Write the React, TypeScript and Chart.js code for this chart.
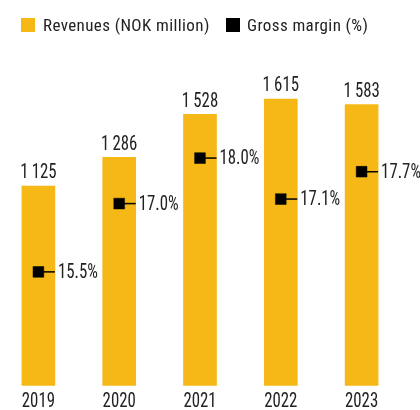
import React, { useEffect, useRef } from "react";
import { Chart, registerables } from "chart.js";

Chart.register(...registerables);

const years = ["2019", "2020", "2021", "2022", "2023"];
const revenues = [1125, 1286, 1528, 1615, 1583];
const revenueLabels = ["1\u2009125", "1\u2009286", "1\u2009528", "1\u2009615", "1\u2009583"];
const grossMargin = [15.5, 17.0, 18.0, 17.1, 17.7];
const marginLabels = ["15.5%", "17.0%", "18.0%", "17.1%", "17.7%"];

const ORANGE = "#F6B817";
const TEXT = "#222222";
const FONT = "'Roboto Condensed', Roboto, sans-serif";
const NUM_SX = 0.8;

function scaledText(ctx: any, text: string, x: number, y: number, align: string, baseline: string) {
  ctx.save();
  ctx.translate(x, y);
  ctx.scale(NUM_SX, 1);
  ctx.textAlign = align;
  ctx.textBaseline = baseline;
  ctx.fillText(text, 0, 0);
  ctx.restore();
}

const labelPlugin = {
  id: "labels",
  afterDatasetsDraw(chart: any) {
    const ctx = chart.ctx;
    const barMeta = chart.getDatasetMeta(0);
    const lineMeta = chart.getDatasetMeta(1);
    const xScale = chart.scales.x;
    const bottom = chart.chartArea.bottom;
    ctx.save();
    ctx.font = `21px ${FONT}`;
    ctx.fillStyle = TEXT;
    barMeta.data.forEach((bar: any, i: number) => {
      scaledText(ctx, revenueLabels[i], bar.x, bar.y - 7.5, "center", "alphabetic");
    });
    lineMeta.data.forEach((pt: any, i: number) => {
      const bar = barMeta.data[i];
      const right = bar.x + bar.width / 2;
      ctx.strokeStyle = "#000";
      ctx.lineWidth = 1.5;
      ctx.beginPath();
      ctx.moveTo(pt.x + 5, pt.y);
      ctx.lineTo(right, pt.y);
      ctx.stroke();
      scaledText(ctx, marginLabels[i], right + 3, pt.y + 1, "left", "middle");
    });
    years.forEach((y, i) => {
      scaledText(ctx, y, xScale.getPixelForValue(i), bottom + 16, "center", "middle");
    });
    ctx.restore();
  },
};

function App() {
  const ref = useRef<HTMLCanvasElement>(null);
  useEffect(() => {
    if (!ref.current) return;
    const chart = new Chart(ref.current, {
      type: "bar",
      data: {
        labels: years,
        datasets: [
          {
            type: "bar",
            label: "Revenues (NOK million)",
            data: revenues,
            backgroundColor: ORANGE,
            barThickness: 33,
            yAxisID: "y",
            order: 2,
          } as any,
          {
            type: "line",
            label: "Gross margin (%)",
            data: grossMargin,
            showLine: false,
            pointStyle: "rect",
            pointRadius: 7.6,
            pointBackgroundColor: "#000",
            pointBorderColor: "#000",
            pointBorderWidth: 0.5,
            yAxisID: "y2",
            order: 1,
          } as any,
        ],
      },
      options: {
        responsive: false,
        animation: false,
        devicePixelRatio: 1,
        layout: { autoPadding: false, padding: { top: 30.6, left: 0, right: 20, bottom: 0 } },
        plugins: { legend: { display: false }, tooltip: { enabled: false } },
        scales: {
          x: {
            offset: true,
            grid: { display: false },
            border: { display: false },
            ticks: { display: false },
            afterFit: (s: any) => {
              s.height = 24.3;
            },
          },
          y: { display: false, min: 0, max: 2000 },
          y2: { display: false, min: 13, max: 20.8 },
        },
      },
      plugins: [labelPlugin],
    });
    return () => chart.destroy();
  }, []);

  const legendText: React.CSSProperties = {
    position: "absolute",
    top: 13,
    fontFamily: FONT,
    fontSize: 17,
    lineHeight: "24px",
    letterSpacing: "0.4px",
    color: TEXT,
    whiteSpace: "nowrap",
  };

  return (
    <div style={{ position: "fixed", left: 0, top: 0, width: 420, height: 410, background: "#fff", overflow: "hidden" }}>
      <canvas ref={ref} width={424} height={410} style={{ position: "absolute", left: -2, top: 0 }} />
      <div style={{ position: "absolute", left: 21, top: 18, width: 14, height: 14, background: ORANGE }} />
      <div style={{ ...legendText, left: 43 }}>Revenues (NOK million)</div>
      <div style={{ position: "absolute", left: 226, top: 18, width: 14, height: 14, background: "#000" }} />
      <div style={{ ...legendText, left: 247 }}>Gross margin (%)</div>
    </div>
  );
}

export default App;
